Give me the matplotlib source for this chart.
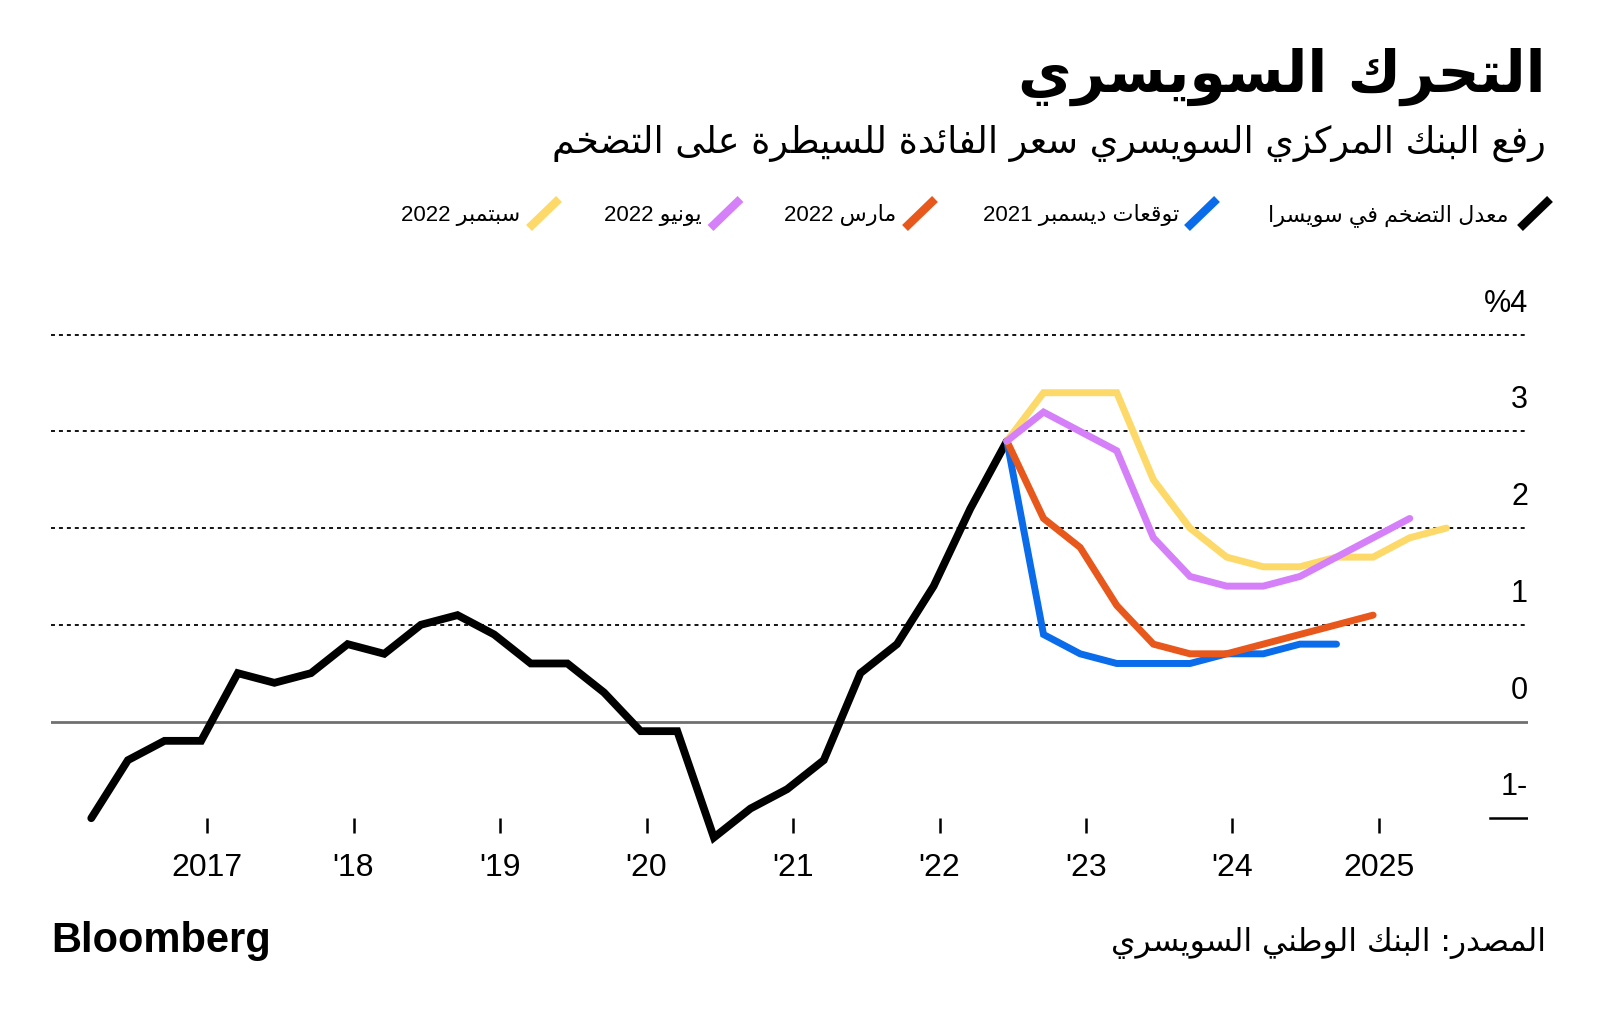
import re
import matplotlib
matplotlib.use("Agg")
import matplotlib.pyplot as plt
import matplotlib.transforms as mtransforms
from matplotlib.lines import Line2D
from matplotlib import font_manager

# ------------------------------------------------------------------ data
quarters_actual = ["2016Q1", "2016Q2", "2016Q3", "2016Q4",
                   "2017Q1", "2017Q2", "2017Q3", "2017Q4",
                   "2018Q1", "2018Q2", "2018Q3", "2018Q4",
                   "2019Q1", "2019Q2", "2019Q3", "2019Q4",
                   "2020Q1", "2020Q2", "2020Q3", "2020Q4",
                   "2021Q1", "2021Q2", "2021Q3", "2021Q4",
                   "2022Q1", "2022Q2"]
inflation_actual = [-1.0, -0.4, -0.2, -0.2,
                    0.5, 0.4, 0.5, 0.8,
                    0.7, 1.0, 1.1, 0.9,
                    0.6, 0.6, 0.3, -0.1,
                    -0.1, -1.2, -0.9, -0.7,
                    -0.4, 0.5, 0.8, 1.4,
                    2.2, 2.9]

quarters_fc = ["2022Q2", "2022Q3", "2022Q4",
               "2023Q1", "2023Q2", "2023Q3", "2023Q4",
               "2024Q1", "2024Q2", "2024Q3", "2024Q4",
               "2025Q1", "2025Q2"]
forecast_dec2021 = [2.9, 0.9, 0.7, 0.6, 0.6, 0.6, 0.7, 0.7, 0.8, 0.8]
forecast_mar2022 = [2.9, 2.1, 1.8, 1.2, 0.8, 0.7, 0.7, 0.8, 0.9, 1.0, 1.1]
forecast_jun2022 = [2.9, 3.2, 3.0, 2.8, 1.9, 1.5, 1.4, 1.4, 1.5, 1.7, 1.9, 2.1]
forecast_sep2022 = [2.9, 3.4, 3.4, 3.4, 2.5, 2.0, 1.7, 1.6, 1.6, 1.7, 1.7, 1.9, 2.0]

series_labels = ["معدل التضخم في سويسرا", "توقعات ديسمبر 2021", "مارس 2022",
                 "يونيو 2022", "سبتمبر 2022"]
series_colors = ["#000000", "#0A6BEB", "#E8581C", "#D580F9", "#FDD96A"]

x_tick_years = [2017, 2018, 2019, 2020, 2021, 2022, 2023, 2024, 2025]
x_tick_labels = ["2017", "'18", "'19", "'20", "'21", "'22", "'23", "'24", "2025"]
y_tick_values = [4, 3, 2, 1, 0, -1]
y_tick_labels = ["%4", "3", "2", "1", "0", "1-"]

title_text = "التحرك السويسري"
subtitle_text = "رفع البنك المركزي السويسري سعر الفائدة للسيطرة على التضخم"
source_text = "المصدر: البنك الوطني السويسري"
brand_text = "Bloomberg"

# ------------------------------------------------------------------ arabic shaping helpers
DUAL = {'\u0626': 0xFE89, '\u0628': 0xFE8F, '\u062A': 0xFE95, '\u062B': 0xFE99,
        '\u062C': 0xFE9D, '\u062D': 0xFEA1, '\u062E': 0xFEA5, '\u0633': 0xFEB1,
        '\u0634': 0xFEB5, '\u0635': 0xFEB9, '\u0636': 0xFEBD, '\u0637': 0xFEC1,
        '\u0638': 0xFEC5, '\u0639': 0xFEC9, '\u063A': 0xFECD, '\u0641': 0xFED1,
        '\u0642': 0xFED5, '\u0643': 0xFED9, '\u0644': 0xFEDD, '\u0645': 0xFEE1,
        '\u0646': 0xFEE5, '\u0647': 0xFEE9, '\u064A': 0xFEF1}
RIGHT = {'\u0622': 0xFE81, '\u0623': 0xFE83, '\u0624': 0xFE85, '\u0625': 0xFE87,
         '\u0627': 0xFE8D, '\u0629': 0xFE93, '\u062F': 0xFEA9, '\u0630': 0xFEAB,
         '\u0631': 0xFEAD, '\u0632': 0xFEAF, '\u0648': 0xFEED, '\u0649': 0xFEEF}
LAM_ALEF = {'\u0622': 0xFEF5, '\u0623': 0xFEF7, '\u0625': 0xFEF9, '\u0627': 0xFEFB}


def shape_arabic(s):
    out = []
    prev_left = False
    i, n = 0, len(s)
    while i < n:
        c = s[i]
        if c == '\u0644' and i + 1 < n and s[i + 1] in LAM_ALEF:
            base = LAM_ALEF[s[i + 1]]
            out.append(chr(base + 1 if prev_left else base))
            prev_left = False
            i += 2
            continue
        if c in DUAL or c in RIGHT:
            nxt = s[i + 1] if i + 1 < n else ''
            if c in DUAL:
                base = DUAL[c]
                left = nxt in DUAL or nxt in RIGHT
                if prev_left and left:
                    g = base + 3
                elif prev_left:
                    g = base + 1
                elif left:
                    g = base + 2
                else:
                    g = base
            else:
                base = RIGHT[c]
                g = base + 1 if prev_left else base
            out.append(chr(g))
            prev_left = c in DUAL
        else:
            out.append(c)
            prev_left = False
        i += 1
    return ''.join(out)


def rtl(s):
    rev = shape_arabic(s)[::-1]
    return re.sub(r"[0-9A-Za-z.%]+", lambda m: m.group(0)[::-1], rev)


def qpos(q):
    return int(q[:4]) + (int(q[5]) - 1) * 0.25 + 0.21


# ------------------------------------------------------------------ fonts
avail = {f.name for f in font_manager.fontManager.ttflist}
NARROW = "Liberation Sans Narrow" if "Liberation Sans Narrow" in avail else "Liberation Sans"
SANS = "Liberation Sans"
AR = "DejaVu Sans"

W, H = 1600, 1019
fig = plt.figure(figsize=(W / 100, H / 100), dpi=100)
fig.patch.set_facecolor("white")


def fx(x):
    return x / W


def fy(y):
    return 1 - y / H


# axes placement (pixel measurements from reference)
x_left_px, x_right_px = 51, 1528
y_top_val, y_bot_val = 4.1, -1.3
px_per_unit = 96.7
y4_px = 334.7
top_px = y4_px - (y_top_val - 4) * px_per_unit
bot_px = y4_px + (4 - y_bot_val) * px_per_unit
ax = fig.add_axes([fx(x_left_px), fy(bot_px), fx(x_right_px) - fx(x_left_px), (bot_px - top_px) / H])
px_per_year = 146.5
x0 = 2017 - (207 - x_left_px) / px_per_year
x1 = 2017 + (x_right_px - 207) / px_per_year
ax.set_xlim(x0, x1)
ax.set_ylim(y_bot_val, y_top_val)

# grid
for v in [1, 2, 3, 4]:
    ax.axhline(v, color="black", lw=1.3, ls=(0, (2.2, 2.2)), zorder=1)
ax.axhline(0, color="#707070", lw=2.0, zorder=1)
ax.axhline(-1, xmin=(1490 - x_left_px) / (x_right_px - x_left_px), xmax=1.0,
           color="black", lw=1.8, zorder=1)

# series
xa = [qpos(q) for q in quarters_actual]
ax.plot(xa, inflation_actual, color=series_colors[0], lw=5.6,
        solid_capstyle="round", solid_joinstyle="miter", zorder=3)
for vals, col in zip([forecast_dec2021, forecast_mar2022, forecast_sep2022, forecast_jun2022],
                     [series_colors[1], series_colors[2], series_colors[4], series_colors[3]]):
    xs = [qpos(q) for q in quarters_fc[:len(vals)]]
    ax.plot(xs, vals, color=col, lw=5.0, solid_capstyle="round",
            solid_joinstyle="miter", zorder=4)

# axes cosmetics
for s in ["left", "right", "top"]:
    ax.spines[s].set_visible(False)
ax.spines["bottom"].set_position(("data", -1))
ax.spines["bottom"].set_color("none")
ax.set_yticks([])
ax.set_xticks(x_tick_years)
ax.set_xticklabels(x_tick_labels, fontfamily=NARROW, fontsize=23)
ax.tick_params(axis="x", length=11, width=1.8, color="black", pad=14, direction="out")

trans = mtransforms.blended_transform_factory(ax.transAxes, ax.transData)
for v, lab in zip(y_tick_values, y_tick_labels):
    ax.annotate(lab, xy=(1.0, v), xycoords=trans, xytext=(0, 16.5),
                textcoords="offset points", ha="right", va="baseline",
                fontsize=22, fontfamily=SANS, color="black", annotation_clip=False)

# titles
fig.text(fx(1546), fy(92), rtl(title_text), ha="right", va="baseline",
         fontsize=42, fontweight="bold", fontfamily=AR)
fig.text(fx(1546), fy(153), rtl(subtitle_text), ha="right", va="baseline",
         fontsize=26.3, fontfamily=AR)

# legend
slash_cx = [1535, 1202, 920, 725.5, 544]
text_right = [1508, 1179, 896, 702, 520]
for lab, col, cx, tr in zip(series_labels, series_colors, slash_cx, text_right):
    fig.add_artist(Line2D([fx(cx - 15), fx(cx + 15)], [fy(228), fy(199)],
                          color=col, lw=6, solid_capstyle="butt",
                          transform=fig.transFigure))
    fig.text(fx(tr), fy(221), rtl(lab), ha="right", va="baseline",
             fontsize=16, fontfamily=[NARROW, AR])

# footer
fig.text(fx(51), fy(952), brand_text, ha="left", va="baseline",
         fontsize=30, fontweight="bold", fontfamily=SANS)
fig.text(fx(1546), fy(951), rtl(source_text), ha="right", va="baseline",
         fontsize=22.5, fontfamily=AR)

fig.savefig("out.png", dpi=100, facecolor="white")
